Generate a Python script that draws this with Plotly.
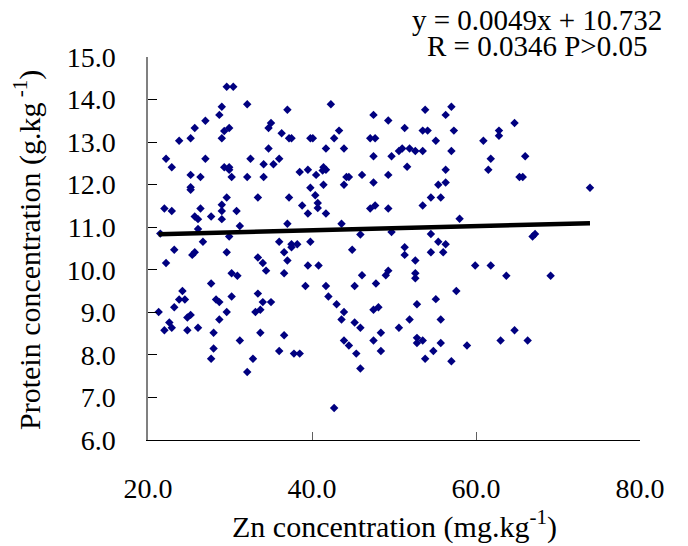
import plotly.graph_objects as go

# ---- data ----
zn = [29.6, 30.4, 29.0, 28.7, 27.0, 29.9, 29.3, 25.7, 25.2, 23.8, 29.0, 22.2, 22.9, 27.0, 29.3, 29.9, 29.9, 30.2,
      25.2, 26.4, 25.2, 25.2, 29.6, 22.0, 22.9, 26.4, 29.0, 29.0, 25.7, 26.1, 27.7, 29.0, 30.8, 31.2, 26.1, 21.5,
      29.9, 26.7, 23.2, 25.7, 25.4, 29.6,
      22.2, 30.2, 30.9, 27.7, 24.2, 23.8, 24.5, 28.3, 28.7, 30.2, 23.2, 21.3, 29.6, 25.2, 24.8, 22.6, 28.7, 22.0,
      22.9, 24.8, 26.1, 28.0, 31.2, 28.0, 27.7,
      32.1, 37.0, 42.3, 35.0, 34.7, 36.3, 37.2, 37.5, 39.8, 40.1, 43.3, 42.7, 34.7, 41.7, 43.9, 32.5, 34.1, 35.3,
      36.0, 38.5, 39.5, 40.5, 41.4, 41.7, 41.3, 44.2, 44.5, 32.1, 34.1, 41.4, 43.9, 39.8, 33.4, 37.2, 40.4, 40.7,
      40.7, 38.8, 39.5, 41.7, 37.0, 43.6, 36.0, 37.5, 38.2, 37.5, 39.8, 36.6, 44.9, 33.4,
      34.0, 34.4, 37.0, 36.6, 39.5, 40.8, 39.2, 41.7, 45.2, 33.4, 34.0, 35.0, 33.1, 33.7, 42.0, 43.0, 43.9, 43.6,
      45.2, 45.9, 33.7, 36.6, 43.9, 44.5, 36.0, 37.8, 38.5, 45.4, 32.8, 32.1, 45.9, 42.7,
      47.5, 49.3, 53.8, 56.3, 57.0, 51.3, 53.5, 54.1, 57.3, 55.1, 47.1, 47.7, 47.5, 49.7, 50.6, 51.0, 51.9, 52.6,
      53.5, 57.0, 51.6, 56.3, 46.1, 49.3, 47.5, 55.4, 56.3, 54.5, 55.7, 47.1, 47.7, 49.3, 53.5, 58.0, 45.9, 49.7,
      54.5, 55.4, 56.3, 51.3, 51.3, 54.5, 56.0, 52.6,
      46.1, 49.3, 49.0, 47.8, 52.6, 52.6, 57.6, 55.1, 52.8, 47.5, 48.1, 51.9, 55.7, 48.4, 50.6, 47.5, 52.8, 52.8,
      53.5, 55.7, 58.9, 48.4, 54.8, 53.8, 57.0,
      64.7, 62.8, 62.8, 60.9, 61.8, 61.5, 66.0, 65.3, 65.7, 73.9, 66.9, 67.2,
      59.9, 61.8, 63.7, 69.1, 64.7, 63.0, 66.3]

protein = [14.30, 14.30, 13.83, 13.64, 13.50, 13.33, 13.26, 13.33, 13.09, 13.03, 13.09, 12.61, 12.41, 12.61, 12.41,
           12.41, 12.35, 12.18, 12.23, 12.18, 11.94, 11.88, 11.70, 11.44, 11.38, 11.44, 11.53, 11.38, 11.25, 11.19,
           11.25, 11.19, 11.38, 11.03, 10.96, 10.85, 10.78, 10.66, 10.47, 10.41, 10.35, 10.41,
           10.16, 9.92, 9.86, 9.68, 9.50, 9.30, 9.30, 9.30, 9.24, 9.37, 9.12, 9.01, 9.01, 8.94, 8.88, 8.76, 8.83, 8.58,
           8.64, 8.58, 8.64, 8.52, 8.34, 8.15, 7.91,
           13.89, 13.76, 13.89, 13.45, 13.33, 13.21, 13.09, 13.09, 13.09, 13.09, 13.27, 13.09, 12.85, 12.85, 12.85,
           12.61, 12.48, 12.48, 12.61, 12.30, 12.35, 12.23, 12.41, 12.35, 12.33, 12.18, 12.18, 12.18, 12.18, 12.00,
           12.00, 11.93, 11.70, 11.70, 11.75, 11.57, 11.45, 11.51, 11.32, 11.32, 11.08, 11.08, 10.66, 10.60, 10.60,
           10.53, 10.66, 10.41, 10.47, 10.29,
           10.16, 9.98, 10.22, 9.92, 10.10, 10.10, 9.62, 9.62, 9.62, 9.44, 9.24, 9.24, 9.01, 9.06, 9.37, 9.19, 9.01,
           8.83, 8.76, 8.64, 8.52, 8.46, 8.34, 8.22, 8.09, 8.03, 8.03, 8.03, 7.91, 7.60, 7.68, 6.75,
           13.64, 13.51, 13.76, 13.64, 13.83, 13.33, 13.27, 13.27, 13.27, 13.03, 13.09, 13.09, 12.67, 12.67, 12.79,
           12.85, 12.85, 12.79, 12.79, 12.79, 12.42, 12.35, 12.23, 12.23, 12.05, 12.00, 12.05, 11.70, 11.70, 11.44,
           11.51, 11.44, 11.51, 11.20, 10.83, 10.89, 10.84, 10.66, 10.60, 10.53, 10.35, 10.41, 10.41, 10.22,
           9.87, 9.98, 9.87, 9.68, 9.92, 9.80, 9.50, 9.31, 9.19, 9.06, 9.12, 8.83, 8.83, 8.52, 8.64, 8.34, 8.40, 8.28,
           8.34, 8.28, 8.22, 8.09, 8.09, 7.91, 7.85,
           13.45, 13.27, 13.15, 13.03, 12.61, 12.35, 12.67, 12.18, 12.18, 11.93, 10.78, 10.84,
           10.10, 10.10, 9.86, 9.86, 8.58, 8.34, 8.34]

slope = 0.0049
intercept = 10.732
equation_text = "y = 0.0049x + 10.732"
stats_text = "R = 0.0346 P>0.05"

x_ticks = [20, 40, 60, 80]
y_ticks = [6, 7, 8, 9, 10, 11, 12, 13, 14, 15]

FONT = "Times New Roman, Liberation Serif, serif"

# plot area in window pixels: x 148..640, y 57..440 (page body adds an 8px offset)
def px(sx):
    return (sx - 148) / 492

def py(sy):
    return (440 - sy) / 383

fig = go.Figure()
fig.add_trace(go.Scatter(
    x=zn, y=protein, mode="markers",
    marker=dict(symbol="diamond", size=6.5, color="#000080", line=dict(width=0)),
    cliponaxis=False,
))
x_line = [min(zn), max(zn)]
y_line = [slope * v + intercept for v in x_line]
fig.add_trace(go.Scatter(x=x_line, y=y_line, mode="lines",
                         line=dict(color="black", width=4.5)))

fig.update_layout(
    width=680, height=538,
    margin=dict(l=140, r=48, t=49, b=106),
    plot_bgcolor="white", paper_bgcolor="white",
    showlegend=False,
    font=dict(family=FONT, size=28, color="black"),
    xaxis=dict(range=[20, 80], tickvals=x_ticks, ticktext=[f"{v:.1f}" for v in x_ticks],
               showgrid=False, zeroline=False, showline=True, linecolor="black", linewidth=1,
               ticks="inside", ticklen=8, tickcolor="#606060", tickwidth=1,
               ticklabelstandoff=23, tickfont=dict(size=28)),
    yaxis=dict(range=[6, 15], tickvals=y_ticks, ticktext=[f"{v:.1f}" for v in y_ticks],
               showgrid=False, zeroline=False, showline=True, linecolor="#808080", linewidth=1.5,
               ticks="inside", ticklen=9, tickcolor="black", tickwidth=1,
               ticklabelstandoff=25, tickfont=dict(size=28)),
    annotations=[
        dict(text=equation_text, xref="paper", yref="paper", x=px(537), y=py(20),
             xanchor="center", yanchor="middle", showarrow=False, font=dict(size=29)),
        dict(text=stats_text, xref="paper", yref="paper", x=px(537), y=py(46),
             xanchor="center", yanchor="middle", showarrow=False, font=dict(size=29)),
        dict(text="Protein concentration (g.kg<sup> -1</sup>)", xref="paper", yref="paper",
             x=px(27), y=py(250), textangle=-90,
             xanchor="center", yanchor="middle", showarrow=False, font=dict(size=30)),
        dict(text="Zn concentration (mg.kg<sup>-1</sup>)", xref="paper", yref="paper",
             x=px(394), y=py(524),
             xanchor="center", yanchor="middle", showarrow=False, font=dict(size=30)),
    ],
)

fig.write_html("out.html")
